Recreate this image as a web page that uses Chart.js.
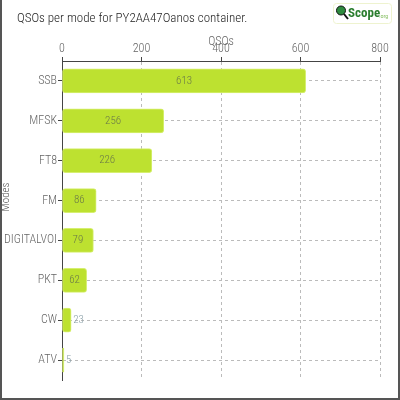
<!DOCTYPE html>
<html>
<head>
<meta charset="utf-8">
<script src="https://cdn.jsdelivr.net/npm/chart.js@4.4.1/dist/chart.umd.min.js"></script>
<style>
  html, body { margin: 0; padding: 0; background: #fff; }
  #wrap { width: 400px; height: 400px; position: relative; }
  canvas { display: block; }
</style>
</head>
<body>
<div id="wrap"><canvas id="c" width="400" height="400"></canvas></div>
<script>
const categories = ["SSB", "MFSK", "FT8", "FM", "DIGITALVOI", "PKT", "CW", "ATV"];
const qsoCounts = [613, 256, 226, 86, 79, 62, 23, 5];
const xTicks = [0, 200, 400, 600, 800];
const chartTitle = "QSOs per mode for PY2AA47Oanos container.";
const xTitle = "QSOs";
const yTitle = "Modes";

const FONT = "'Roboto Condensed', Roboto, sans-serif";

const decorPlugin = {
  id: 'decor',
  afterDatasetsDraw(chart) {
    const ctx = chart.ctx;
    const meta = chart.getDatasetMeta(0);
    ctx.save();
    ctx.font = "300 11px " + FONT;
    ctx.textBaseline = 'middle';
    meta.data.forEach((bar, i) => {
      const txt = String(qsoCounts[i]);
      const w = ctx.measureText(txt).width;
      const barW = bar.x - bar.base;
      if (barW > w + 8) {
        ctx.textAlign = 'center';
        ctx.fillStyle = '#6a7848';
        ctx.fillText(txt, (bar.x + bar.base) / 2, bar.y);
      } else {
        ctx.textAlign = 'left';
        ctx.fillStyle = '#8aa0a8';
        ctx.fillText(txt, bar.x + 2, bar.y);
      }
    });
    ctx.restore();
  },
  afterDraw(chart) {
    const ctx = chart.ctx;
    ctx.save();
    // main title
    ctx.font = "300 13px " + FONT;
    ctx.fillStyle = '#222';
    ctx.textAlign = 'left';
    ctx.textBaseline = 'alphabetic';
    ctx.fillText(chartTitle, 17, 22);
    // y title
    ctx.save();
    ctx.translate(6, 197);
    ctx.rotate(-Math.PI / 2);
    ctx.font = "300 11px " + FONT;
    ctx.fillStyle = '#555';
    ctx.textAlign = 'center';
    ctx.textBaseline = 'middle';
    ctx.fillText(yTitle, 0, 0);
    ctx.restore();
    // logo
    ctx.strokeStyle = '#eef3cf';
    ctx.lineWidth = 1;
    ctx.beginPath();
    ctx.roundRect(333.5, 3.5, 58, 20, 3);
    ctx.stroke();
    ctx.strokeStyle = '#111';
    ctx.lineWidth = 2;
    ctx.beginPath();
    ctx.moveTo(344, 14); ctx.lineTo(348, 19);
    ctx.stroke();
    ctx.fillStyle = '#2e8b3e';
    ctx.beginPath();
    ctx.arc(341, 10.5, 4.5, 0, Math.PI * 2);
    ctx.fill();
    ctx.strokeStyle = '#111';
    ctx.lineWidth = 1;
    ctx.stroke();
    ctx.font = "bold 13px 'Roboto Condensed', sans-serif";
    ctx.fillStyle = '#2a7d2e';
    ctx.textAlign = 'left';
    ctx.fillText("Scope", 348, 17);
    ctx.font = "6px 'Roboto Condensed', sans-serif";
    ctx.fillStyle = '#8cc26a';
    ctx.fillText(".org", 379, 18);
    // outer frame
    ctx.fillStyle = '#555';
    ctx.fillRect(0, 0, 2, 400);
    ctx.fillRect(398, 0, 2, 400);
    ctx.fillRect(0, 398, 400, 2);
    ctx.restore();
  }
};

new Chart(document.getElementById('c'), {
  type: 'bar',
  data: {
    labels: categories,
    datasets: [{
      data: qsoCounts,
      backgroundColor: '#bde130',
      borderColor: '#d6ef70',
      borderWidth: 1,
      borderRadius: 3,
      borderSkipped: false,
      barThickness: 24
    }]
  },
  options: {
    indexAxis: 'y',
    responsive: false,
    animation: false,
    layout: { padding: { left: 0, right: 20, top: 0, bottom: 20 } },
    plugins: { legend: { display: false }, tooltip: { enabled: false } },
    scales: {
      x: {
        position: 'top',
        min: 0, max: 800,
        afterBuildTicks(scale) { scale.ticks = xTicks.map(v => ({ value: v })); },
        afterFit(scale) { scale.height = 61; },
        ticks: { color: '#666', font: { family: FONT, size: 12, weight: 300 }, padding: 1, maxRotation: 0 },
        grid: { color: '#bbb', tickColor: '#444', tickLength: 4 },
        border: { display: true, color: '#444', width: 1, dash: [3, 3] },
        title: { display: true, text: xTitle, color: '#666', font: { family: FONT, size: 12, weight: 300 }, padding: { top: 35, bottom: 0 } }
      },
      y: {
        afterFit(scale) { scale.width = 62; },
        ticks: { color: '#666', font: { family: FONT, size: 12, weight: 300 }, padding: 1 },
        grid: { offset: false, color: '#bbb', tickColor: '#444', tickLength: 4 },
        border: { display: true, color: '#444', width: 1, dash: [3, 3] }
      }
    }
  },
  plugins: [decorPlugin]
});
</script>
</body>
</html>
